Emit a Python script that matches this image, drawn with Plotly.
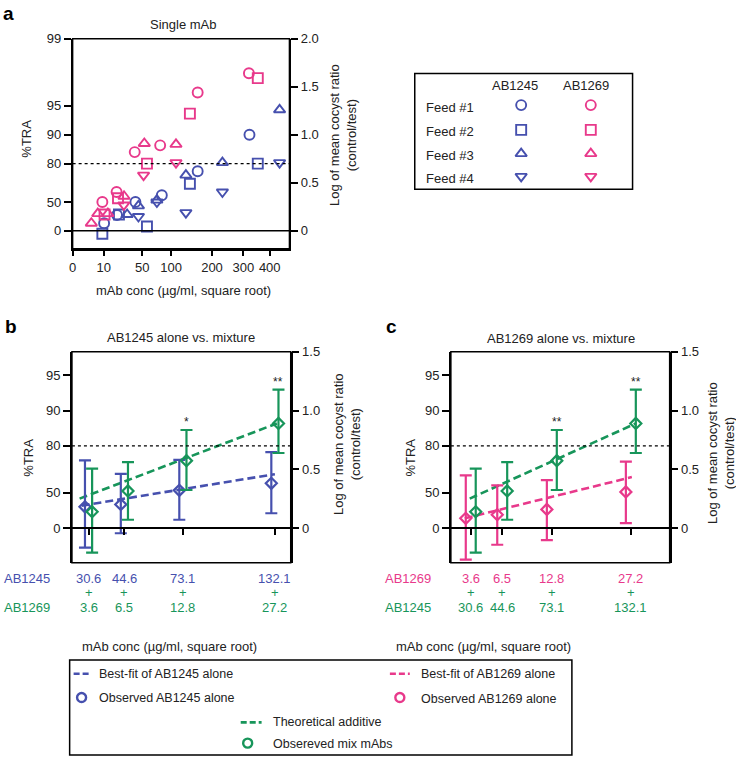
import numpy as np
import plotly.graph_objects as go

W, H = 736, 759
BLUE = "#4650AE"
PINK = "#E8398B"
GREEN = "#17955A"
FONT = "Liberation Sans, Arial, Helvetica, sans-serif"

# ---------------- data ----------------
tra_tick_pct = [0, 50, 80, 90, 95, 99]
log_ticks_a = [0, 0.5, 1.0, 1.5, 2.0]
log_ticks_bc = [0, 0.5, 1.0, 1.5]
conc_ticks_a = [0, 10, 50, 100, 200, 300, 400]
feeds = ["Feed #1", "Feed #2", "Feed #3", "Feed #4"]

# Panel a: single mAb (conc in ug/ml, y = log mean cocyst ratio)
ab1245_f1_conc = [10.2, 20.3, 40.6, 81.9, 161, 322]
ab1245_f1_log = [0.08, 0.165, 0.30, 0.37, 0.62, 1.00]
ab1245_f2_conc = [9.1, 22.1, 56.9, 141.6, 353]
ab1245_f2_log = [-0.03, 0.17, 0.045, 0.49, 0.70]
ab1245_f3_conc = [30.6, 44.6, 73.1, 132.1, 231, 441]
ab1245_f3_log = [0.17, 0.26, 0.32, 0.58, 0.71, 1.26]
ab1245_f4_conc = [44.6, 73.1, 132.1, 231, 441]
ab1245_f4_log = [0.15, 0.30, 0.19, 0.405, 0.71]

ab1269_f1_conc = [9.1, 19.9, 39.7, 78.9, 161, 320]
ab1269_f1_log = [0.30, 0.405, 0.82, 0.89, 1.44, 1.64]
ab1269_f2_conc = [10.5, 21.2, 56.9, 141.6, 353]
ab1269_f2_log = [0.17, 0.34, 0.70, 1.22, 1.59]
ab1269_f3_conc = [3.6, 6.5, 12.8, 27.2, 52.9, 110]
ab1269_f3_log = [0.08, 0.18, 0.18, 0.36, 0.91, 0.90]
ab1269_f4_conc = [27.0, 51.8, 110]
ab1269_f4_log = [0.27, 0.58, 0.71]

# Panels b and c
ab1245_conc = [30.6, 44.6, 73.1, 132.1]
ab1269_conc = [3.6, 6.5, 12.8, 27.2]
ab1245_mean = [0.18, 0.20, 0.32, 0.38]
ab1245_hi = [0.576, 0.46, 0.58, 0.646]
ab1245_lo = [-0.168, -0.045, 0.07, 0.125]
ab1269_mean = [0.082, 0.113, 0.158, 0.307]
ab1269_hi = [0.447, 0.362, 0.408, 0.565]
ab1269_lo = [-0.27, -0.143, -0.103, 0.041]
mix_mean = [0.138, 0.315, 0.573, 0.89]
mix_hi = [0.505, 0.56, 0.834, 1.177]
mix_lo = [-0.21, 0.07, 0.323, 0.638]
fit_1245 = [0.19, 0.458]
fit_1269 = [0.082, 0.433]
additive_b = [0.25, 0.89]
additive_c = [0.25, 0.89]
stars_b = ["", "", "*", "**"]
stars_c = ["", "", "**", "**"]

# ---------------- helpers ----------------
def pct_to_log(p):
    return float(np.log10(1.0 / (1.0 - p / 100.0)))

tra_tick_vals = [pct_to_log(p) for p in tra_tick_pct]
sq = lambda v: [float(np.sqrt(c)) for c in v]

def xdom(l, r):
    return [l / W, r / W]

def ydom(t, b):
    return [1 - b / H, 1 - t / H]

# layout geometry (pixels)
A_L, A_R, A_T, A_B = 69, 287, 32, 244
B_L, B_R, P_T, P_B = 68.3, 288.3, 348, 561
C_L, C_R = 449.3, 669.3
XR_A = [0, 22.0]
YR_A = [-0.186, 2.0]
XR_B = [5.0, 12.0]
XR_C = [1.485, 6.02]
YR_BC = [-0.297, 1.5]

def px2u(px, xr, l, r):
    return px * (xr[1] - xr[0]) / (r - l)

fig = go.Figure()

# ---------------- panel a ----------------
sym = ["circle-open", "square-open", "triangle-up-open", "triangle-down-open"]
a_sets = [
    (BLUE, [(ab1245_f1_conc, ab1245_f1_log), (ab1245_f2_conc, ab1245_f2_log),
            (ab1245_f3_conc, ab1245_f3_log), (ab1245_f4_conc, ab1245_f4_log)]),
    (PINK, [(ab1269_f1_conc, ab1269_f1_log), (ab1269_f2_conc, ab1269_f2_log),
            (ab1269_f3_conc, ab1269_f3_log), (ab1269_f4_conc, ab1269_f4_log)]),
]
for col, sets in a_sets:
    for s, (cx, cy) in zip(sym, sets):
        fig.add_trace(go.Scatter(
            x=sq(cx), y=cy, mode="markers", xaxis="x", yaxis="y",
            marker=dict(symbol=s, size=10, color=col, line=dict(width=1.9, color=col)),
            showlegend=False, cliponaxis=False))
fig.add_trace(go.Scatter(x=[None], y=[None], xaxis="x", yaxis="y2", showlegend=False))

# ---------------- panels b, c ----------------
def err(mean, hi, lo):
    return dict(type="data", symmetric=False,
                array=[h - m for h, m in zip(hi, mean)],
                arrayminus=[m - l for m, l in zip(mean, lo)],
                thickness=2.2, width=6)

def panel(xa, ya, xvals, xr, l, r, off_px, single_mean, single_hi, single_lo, single_col,
          fit, add, line_px, stars):
    d = px2u(off_px, xr, l, r)
    (s0, e0), (s1, e1) = line_px
    xs = [xvals[0] - px2u(s0, xr, l, r), xvals[-1] + px2u(e0, xr, l, r)]
    fig.add_trace(go.Scatter(x=xs, y=fit, mode="lines", xaxis=xa, yaxis=ya,
                             line=dict(color=single_col, width=2.6, dash="8px,4px"),
                             showlegend=False))
    xs2 = [xvals[0] - px2u(s1, xr, l, r), xvals[-1] + px2u(e1, xr, l, r)]
    fig.add_trace(go.Scatter(x=xs2, y=add, mode="lines", xaxis=xa, yaxis=ya,
                             line=dict(color=GREEN, width=2.6, dash="8px,4px"),
                             showlegend=False))
    fig.add_trace(go.Scatter(
        x=[v - d for v in xvals], y=single_mean, mode="markers", xaxis=xa, yaxis=ya,
        error_y=dict(err(single_mean, single_hi, single_lo), color=single_col),
        marker=dict(symbol="diamond-open", size=8.5, color=single_col,
                    line=dict(width=2.2, color=single_col)),
        showlegend=False, cliponaxis=False))
    fig.add_trace(go.Scatter(
        x=[v + d for v in xvals], y=mix_mean, mode="markers", xaxis=xa, yaxis=ya,
        error_y=dict(err(mix_mean, mix_hi, mix_lo), color=GREEN),
        marker=dict(symbol="diamond-open", size=8.5, color=GREEN,
                    line=dict(width=2.2, color=GREEN)),
        showlegend=False, cliponaxis=False))
    for xv, hv, st in zip(xvals, mix_hi, stars):
        if st:
            fig.add_annotation(x=xv + d, y=hv, xref=xa, yref=ya, text=st, showarrow=False,
                               yanchor="bottom", yshift=-1,
                               font=dict(size=12, color="#222", family=FONT))

xb = sq(ab1245_conc)
xc = sq(ab1269_conc)
panel("x2", "y3", xb, XR_B, B_L, B_R, 3.6, ab1245_mean, ab1245_hi, ab1245_lo, BLUE,
      fit_1245, additive_b, [(7, 0), (9, 2)], stars_b)
panel("x3", "y5", xc, XR_C, C_L, C_R, 5.0, ab1269_mean, ab1269_hi, ab1269_lo, PINK,
      fit_1269, additive_c, [(6, 1), (1, 5)], stars_c)
fig.add_trace(go.Scatter(x=[None], y=[None], xaxis="x2", yaxis="y4", showlegend=False))
fig.add_trace(go.Scatter(x=[None], y=[None], xaxis="x3", yaxis="y6", showlegend=False))

# ---------------- legend glyphs (aux pixel axis) ----------------
leg_a_x = [520, 590]
leg_a_y = [99, 124, 148, 171]
for xi, col in zip(leg_a_x, [BLUE, PINK]):
    fig.add_trace(go.Scatter(
        x=[xi] * 4, y=leg_a_y, mode="markers", xaxis="x4", yaxis="y7",
        marker=dict(symbol=sym, size=10, color=col, line=dict(width=1.9, color=col)),
        showlegend=False))
for (x0, x1, yy, col) in [(70, 87, 673, BLUE), (388, 408, 673, PINK), (238, 259, 722, GREEN)]:
    fig.add_trace(go.Scatter(x=[x0, x1], y=[yy, yy], mode="lines", xaxis="x4", yaxis="y7",
                             line=dict(color=col, width=2.6, dash="6px,3px"), showlegend=False))
fig.add_trace(go.Scatter(x=[78, 398, 245], y=[697, 697, 743], mode="markers",
                         xaxis="x4", yaxis="y7",
                         marker=dict(symbol="circle-open", size=9, color=[BLUE, PINK, GREEN],
                                     line=dict(width=2.4, color=[BLUE, PINK, GREEN])),
                         showlegend=False))

# ---------------- axes ----------------
tickfont = dict(size=13, color="#222", family=FONT)
base = dict(showgrid=False, zeroline=False, showline=True, linecolor="black", linewidth=1.5,
            ticks="outside", tickcolor="black", tickwidth=1.5, ticklen=7, tickfont=tickfont)

def left_y(dom, rng, xa):
    return dict(base, domain=dom, range=rng, tickmode="array", tickvals=tra_tick_vals,
                ticktext=[str(p) for p in tra_tick_pct], anchor=xa)

def right_y(dom, rng, xa, over, vals):
    return dict(base, domain=dom, range=rng, tickmode="array", tickvals=vals,
                ticktext=["0" if v == 0 else f"{v:.1f}" for v in vals],
                anchor=xa, overlaying=over, side="right")

fig.update_layout(
    xaxis=dict(base, domain=xdom(A_L, A_R), range=XR_A, tickmode="array",
               tickvals=sq(conc_ticks_a), ticktext=[str(c) for c in conc_ticks_a],
               anchor="y", ticklen=6),
    yaxis=left_y(ydom(A_T, A_B), YR_A, "x"),
    yaxis2=right_y(ydom(A_T, A_B), YR_A, "x", "y", log_ticks_a),
    xaxis2=dict(base, domain=xdom(B_L, B_R), range=XR_B, tickmode="array", tickvals=xb,
                showticklabels=False, anchor="free", position=1 - 525.7 / H, ticklen=6),
    yaxis3=left_y(ydom(P_T, P_B), YR_BC, "x2"),
    yaxis4=right_y(ydom(P_T, P_B), YR_BC, "x2", "y3", log_ticks_bc),
    xaxis3=dict(base, domain=xdom(C_L, C_R), range=XR_C, tickmode="array", tickvals=xc,
                showticklabels=False, anchor="free", position=1 - 525.7 / H, ticklen=6),
    yaxis5=left_y(ydom(P_T, P_B), YR_BC, "x3"),
    yaxis6=right_y(ydom(P_T, P_B), YR_BC, "x3", "y5", log_ticks_bc),
    xaxis4=dict(domain=[0, 1], range=[0, W], visible=False, anchor="y7"),
    yaxis7=dict(domain=[0, 1], range=[H, 0], visible=False, anchor="x4"),
    width=W, height=H, margin=dict(l=0, r=0, t=0, b=0),
    paper_bgcolor="white", plot_bgcolor="rgba(0,0,0,0)",
    font=dict(family=FONT, color="#222", size=13),
    showlegend=False,
)

# ---------------- shapes ----------------
thr = pct_to_log(80)
for xa, ya in [("x", "y"), ("x2", "y3"), ("x3", "y5")]:
    fig.add_shape(type="rect", xref=f"{xa} domain", yref=f"{ya} domain", x0=0, x1=1, y0=0, y1=1,
                  line=dict(color="black", width=1.5), layer="above")
    fig.add_shape(type="line", xref=f"{xa} domain", yref=ya, x0=0, x1=1, y0=thr, y1=thr,
                  line=dict(color="black", width=1.3, dash="dot"))
fig.add_shape(type="line", xref="x domain", yref="y", x0=0, x1=1, y0=0, y1=0,
              line=dict(color="black", width=1.5))
fig.add_shape(type="rect", xref="paper", yref="paper", x0=413 / W, x1=632 / W,
              y0=1 - 184 / H, y1=1 - 67 / H, line=dict(color="black", width=1.5))
fig.add_shape(type="rect", xref="paper", yref="paper", x0=66 / W, x1=571 / W,
              y0=1 - 755 / H, y1=1 - 659 / H, line=dict(color="black", width=1.5))

# ---------------- text ----------------
def txt(x, y, s, size=13, color="#222", anchor="center", angle=0, bold=False):
    if bold:
        s = f"<b>{s}</b>"
    fig.add_annotation(x=x / W, y=1 - y / H, xref="paper", yref="paper", text=s,
                       showarrow=False, xanchor=anchor, yanchor="middle", textangle=angle,
                       font=dict(size=size, color=color, family=FONT))

txt(5, 7, "a", size=19, bold=True, color="black")
txt(7, 322, "b", size=19, bold=True, color="black")
txt(390, 322, "c", size=19, bold=True, color="black")
txt(180, 18, "Single mAb")
txt(178, 334, "AB1245 alone vs. mixture")
txt(560, 335, "AB1269 alone vs. mixture")
txt(23, 133, "%TRA", angle=-90)
txt(25, 455, "%TRA", angle=-90)
txt(409, 455, "%TRA", angle=-90)
rt = "Log of mean cocyst ratio<br>(control/test)"
txt(341, 129, rt, angle=-90)
txt(345, 441, rt, angle=-90)
txt(721, 450, rt, angle=-90)
txt(180, 286, "mAb conc (µg/ml, square root)")
txt(166, 645, "mAb conc (µg/ml, square root)")
txt(482, 645, "mAb conc (µg/ml, square root)")

# panel a legend text
txt(514, 79, "AB1245")
txt(585, 79, "AB1269")
for f, yy in zip(feeds, leg_a_y):
    txt(422, yy + 2, f, anchor="left")

# concentration tables under b and c
def table(xa, xvals, top_lbl, top_vals, top_col, bot_lbl, bot_vals, lbl_x):
    txt(lbl_x, 577, top_lbl, color=top_col)
    txt(lbl_x, 606, bot_lbl, color=GREEN)
    for xv, tv, bv in zip(xvals, top_vals, bot_vals):
        for yy, s, col in [(577, tv, top_col), (591, "+", GREEN), (606, bv, GREEN)]:
            fig.add_annotation(x=xv, y=1 - yy / H, xref=xa, yref="paper", text=s,
                               showarrow=False, yanchor="middle",
                               font=dict(size=13, color=col, family=FONT))

table("x2", xb, "AB1245", [f"{v:.1f}" for v in ab1245_conc], BLUE,
      "AB1269", [f"{v:.1f}" for v in ab1269_conc], 23)
table("x3", xc, "AB1269", [f"{v:.1f}" for v in ab1269_conc], PINK,
      "AB1245", [f"{v:.1f}" for v in ab1245_conc], 406)

# bottom legend text
txt(94, 673, "Best-fit of AB1245 alone", size=12.5, anchor="left")
txt(94, 697, "Observed AB1245 alone", size=12.5, anchor="left")
txt(417, 673, "Best-fit of AB1269 alone", size=12.5, anchor="left")
txt(417, 698, "Observed AB1269 alone", size=12.5, anchor="left")
txt(268, 722, "Theoretical additive", size=12.5, anchor="left")
txt(268, 744, "Obsereved mix mAbs", size=12.5, anchor="left")

fig.write_html("out.html", config={"displayModeBar": False},
               post_script="document.body.style.margin='0';document.body.style.overflow='hidden';")
